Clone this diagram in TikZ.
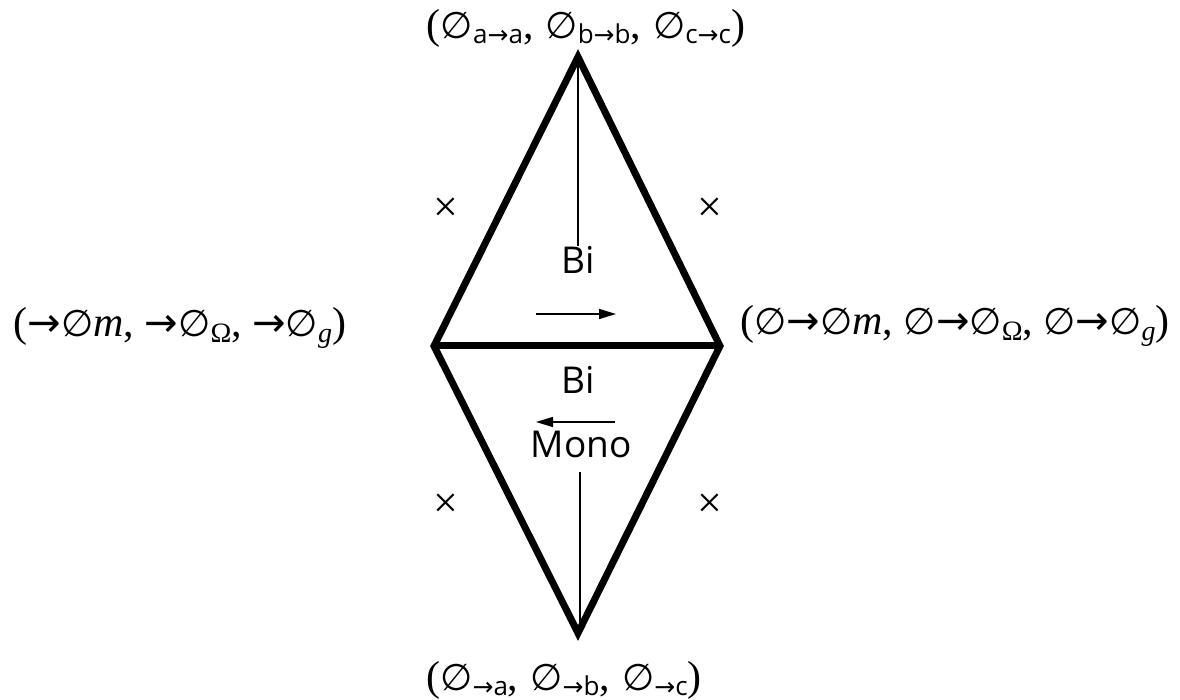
\documentclass[tikz,border=0pt]{standalone}
\usepackage{fontspec}
\setmainfont{Liberation Serif}
\setsansfont{Open Sans}
\newfontfamily\symfont{DejaVu Sans}
\usetikzlibrary{arrows.meta}
\newcommand{\es}{{\symfont\fontsize{37}{37}\selectfont ∅}}
\newcommand{\ar}{{\symfont\fontsize{40}{40}\selectfont →}}
\newcommand{\sar}{{\symfont\fontsize{25}{25}\selectfont →}}
\newcommand{\mysub}[1]{\raisebox{-5pt}{\sffamily\fontsize{26}{26}\selectfont #1}}
\newcommand{\mysubs}[1]{\raisebox{-6pt}{\fontsize{28}{28}\selectfont #1}}
\newcommand{\cs}{,\hspace{12pt}}
\begin{document}
\begin{tikzpicture}[x=1pt,y=-1pt,
  edge/.style={line width=7pt,line join=miter},
  thin/.style={line width=1.3pt},
  arr/.style={line width=1.5pt,-{Triangle[length=17pt,width=10pt]}},
  lab/.style={inner sep=0pt,font=\fontsize{42}{42}\selectfont},
  sans/.style={inner sep=0pt,font=\sffamily\fontsize{37}{37}\selectfont},
  cross/.style={inner sep=0pt,font=\fontsize{44}{44}\selectfont}]
\useasboundingbox (0,0) rectangle (1180,700);
\coordinate (T) at (578,57);
\coordinate (B) at (578,633);
\coordinate (L) at (434,346);
\coordinate (R) at (720,346);
\draw[edge] (T) -- (R) -- (B) -- (L) -- cycle;
\draw[edge] (L) -- (R);
\node[sans] (bi1) at (578,260) {Bi};
\node[sans] (bi2) at (578,380) {Bi};
\node[sans] (mono) at (581,444) {Mono};
\draw[thin] (T) -- (bi1.north);
\coordinate (mb) at (580,633);
\coordinate (ms) at (580,472);
\draw[thin] (ms) -- (mb);
\coordinate (a1s) at (536,314);
\coordinate (a1e) at (616,314);
\draw[arr] (a1s) -- (a1e);
\coordinate (a2s) at (615,422);
\coordinate (a2e) at (536,422);
\draw[arr] (a2s) -- (a2e);
\node[cross] (x1) at (446,210) {×};
\node[cross] (x2) at (710,210) {×};
\node[cross] (x3) at (446,506) {×};
\node[cross] (x4) at (710,506) {×};
\node[lab] (top) at (586,28) {(\es\mysub{a\sar a}\cs\es\mysub{b\sar b}\cs\es\mysub{c\sar c})};
\node[lab] (bot) at (564,680) {(\es\mysub{\sar a}\cs\es\mysub{\sar b}\cs\es\mysub{\sar c})};
\node[lab] (left) at (180,328) {(\ar\es\textit{m}, \ar\es\mysubs{Ω}, \ar\es\mysubs{\textit{g}})};
\node[lab] (right) at (955,326) {(\es\ar\es\textit{m}, \es\ar\es\mysubs{Ω}, \es\ar\es\mysubs{\textit{g}})};
\end{tikzpicture}
\end{document}
